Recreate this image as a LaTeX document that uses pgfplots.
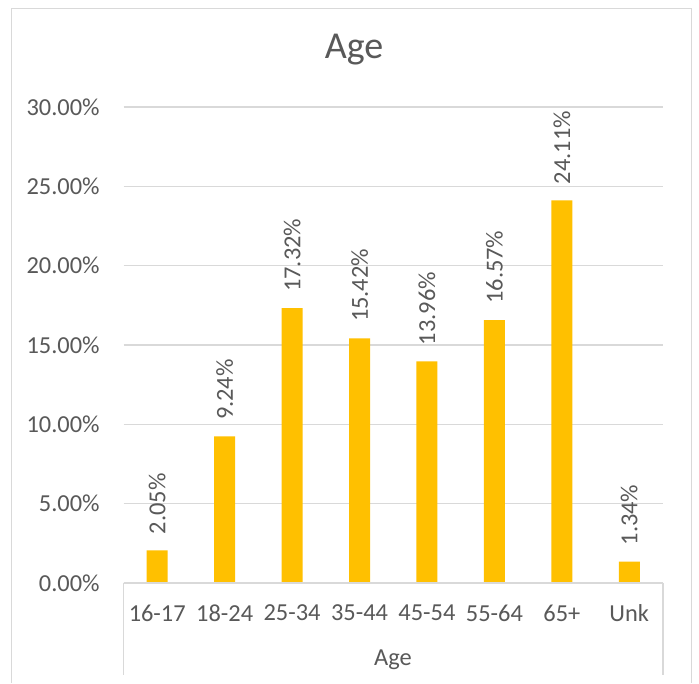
\documentclass[border=0pt]{standalone}
\usepackage{pgfplots}
\pgfplotsset{compat=1.18}
\usepackage{fontspec}
\setmainfont{Carlito}
\definecolor{txt}{HTML}{595959}
\definecolor{gridc}{HTML}{D9D9D9}
\definecolor{barc}{HTML}{FFC000}
\begin{document}
\begin{tikzpicture}[x=1pt,y=1pt]
\useasboundingbox (0,0) rectangle (349.5,341.5);
\fill[white] (0,0) rectangle (349.5,341.5);
\draw[gridc, line width=0.75pt] (5.75,0) -- (5.75,337.25) -- (345.75,337.25) -- (345.75,0);
\begin{axis}[
  at={(61.75pt,50pt)}, anchor=south west,
  scale only axis, width=269.75pt, height=238pt,
  xmin=-0.5, xmax=7.5, ymin=0, ymax=30,
  ybar, bar width=10.5pt,
  xtick={0,...,7},
  xticklabels={16-17,18-24,25-34,35-44,45-54,55-64,65+,Unk},
  ytick={0,5,...,30},
  yticklabel={\pgfmathprintnumber[fixed,fixed zerofill,precision=2]{\tick}\%},
  /pgf/number format/assume math mode=true,
  axis line style={draw=none},
  major tick length=0pt,
  ymajorgrids,
  grid style={gridc, line width=0.75pt},
  tick label style={font=\fontsize{12.2}{14}\selectfont, text=txt},
  xticklabel style={anchor=center, inner sep=0pt, yshift=-15pt},
  yticklabel style={anchor=east, inner sep=0pt, xshift=-11.75pt},
  nodes near coords={\pgfmathprintnumber[fixed,fixed zerofill,precision=2]{\pgfplotspointmeta}\%},
  every node near coord/.append style={rotate=90, anchor=west, inner sep=0pt, inner xsep=8pt, font=\fontsize{12.2}{14}\selectfont, text=txt},
  clip=false,
]
\addplot[fill=barc, draw=none] coordinates {(0,2.05) (1,9.24) (2,17.32) (3,15.42) (4,13.96) (5,16.57) (6,24.11) (7,1.34)};
\draw[gridc, line width=0.75pt] (rel axis cs:0,0) -- (rel axis cs:1,0);
\end{axis}
\draw[gridc, line width=0.75pt] (61.75,50) -- (61.75,4);
\draw[gridc, line width=0.75pt] (331.5,50) -- (331.5,4);
\node[text=txt, font=\fontsize{19}{22}\selectfont] at (177,316.5) {Age};
\node[text=txt, font=\fontsize{12.2}{14}\selectfont] at (196.5,11.5) {Age};
\end{tikzpicture}
\end{document}
